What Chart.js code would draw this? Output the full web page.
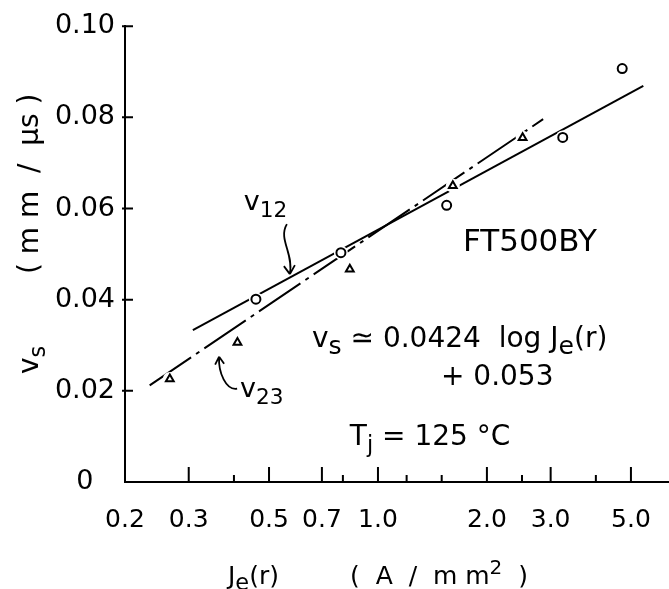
<!DOCTYPE html>
<html>
<head>
<meta charset="utf-8">
<script src="https://cdn.jsdelivr.net/npm/chart.js@4.4.1/dist/chart.umd.min.js"></script>
<style>
  html, body { margin: 0; padding: 0; background: #fff; }
  canvas { display: block; }
</style>
</head>
<body>
<canvas id="velocity" width="669" height="589"></canvas>
<script>
// x ticks (log scale), labelled and unlabelled
const xTickValues = [0.2, 0.3, 0.5, 0.7, 1, 2, 3, 5];
const xTickLabels = ['0.2', '0.3', '0.5', '0.7', '1.0', '2.0', '3.0', '5.0'];
const xMinorTicks = [0.4, 0.8, 1.2, 1.5, 2.5, 4];
const yTickValues = [0, 0.02, 0.04, 0.06, 0.08, 0.10];
const yTickLabels = ['0', '0.02', '0.04', '0.06', '0.08', '0.10'];

// measured points: Je(r) in A/mm2, vs in mm/us
const v12J  = [0.460, 0.790, 1.548, 3.24, 4.73];
const v12Vs = [0.0401, 0.0503, 0.0607, 0.0756, 0.0907];
const v23J  = [0.266, 0.409, 0.836, 1.61, 2.51];
const v23Vs = [0.0226, 0.0306, 0.0467, 0.0650, 0.0755];

// fitted straight lines (end points)
const v12FitJ  = [0.308, 5.41];
const v12FitVs = [0.0333, 0.0869];
const v23FitJ  = [0.234, 2.86];
const v23FitVs = [0.0212, 0.0796];

const FONT = '"DejaVu Sans", sans-serif';
Chart.defaults.font.family = FONT;
Chart.defaults.color = '#000';

const pts = (xs, ys) => xs.map((x, i) => ({ x: x, y: ys[i] }));

// text pieces: [text, 'sub' | 'sup' | undefined]
function drawRich(ctx, x, y, parts, size, subScale = 0.8) {
  for (const [t, kind] of parts) {
    const s = kind ? size * subScale : size;
    const dy = kind === 'sub' ? size * 0.25 : kind === 'sup' ? -size * 0.4 : 0;
    ctx.font = s + 'px ' + FONT;
    ctx.fillText(t, x, y + dy);
    x += ctx.measureText(t).width;
  }
  return x;
}

// labels placed in data coordinates
const notes = [
  { x: 0.426, y: 0.0596, size: 27, parts: [['v'], ['12', 'sub']] },
  { x: 0.416, y: 0.0186, size: 27, parts: [['v'], ['23', 'sub']] },
  { x: 1.717, y: 0.0507, size: 31, parts: [['FT500BY']] },
  { x: 0.657, y: 0.0297, size: 28, sub: 0.9, parts: [['v'], ['s', 'sub'], [' ≃ 0.0424  log J'], ['e', 'sub'], ['(r)']] },
  { x: 1.493, y: 0.0212, size: 28, parts: [['+ 0.053']] },
  { x: 0.836, y: 0.0081, size: 28, parts: [['T'], ['j', 'sub'], [' = 125 °C']] }
];

// curved pointers: tip in data coords, tail/control points as pixel offsets from the tip
const arrows = [
  { x: 0.571, y: 0.0456, tail: [-3, -50], c1: [-12, -35], c2: [4, -21], head: [[-6, -8], [5, -9]] },
  { x: 0.364, y: 0.0275, tail: [18, 32], c1: [7, 34], c2: [-1, 16], head: [[-4, 8], [5, 7]] }
];

const decorations = {
  id: 'decorations',
  afterDatasetsDraw(chart) {
    const ctx = chart.ctx;
    const X = chart.scales.x, Y = chart.scales.y;
    const area = chart.chartArea;
    ctx.save();
    ctx.strokeStyle = '#000';
    ctx.fillStyle = '#000';
    ctx.lineWidth = 2;
    ctx.lineCap = 'butt';

    // tick marks pointing into the plot
    ctx.beginPath();
    xTickValues.slice(1).forEach(v => {
      const px = X.getPixelForValue(v);
      ctx.moveTo(px, area.bottom);
      ctx.lineTo(px, area.bottom - 15);
    });
    xMinorTicks.forEach(v => {
      const px = X.getPixelForValue(v);
      ctx.moveTo(px, area.bottom);
      ctx.lineTo(px, area.bottom - 7);
    });
    yTickValues.slice(1).forEach(v => {
      const py = Y.getPixelForValue(v);
      ctx.moveTo(area.left - 3, py);
      ctx.lineTo(area.left + 8, py);
    });
    ctx.stroke();

    // annotations
    ctx.textAlign = 'left';
    ctx.textBaseline = 'alphabetic';
    notes.forEach(n => {
      drawRich(ctx, X.getPixelForValue(n.x), Y.getPixelForValue(n.y), n.parts, n.size, n.sub);
    });

    ctx.lineWidth = 1.8;
    arrows.forEach(a => {
      const tx = X.getPixelForValue(a.x), ty = Y.getPixelForValue(a.y);
      ctx.beginPath();
      ctx.moveTo(tx + a.tail[0], ty + a.tail[1]);
      ctx.bezierCurveTo(tx + a.c1[0], ty + a.c1[1], tx + a.c2[0], ty + a.c2[1], tx, ty);
      a.head.forEach(h => {
        ctx.moveTo(tx, ty);
        ctx.lineTo(tx + h[0], ty + h[1]);
      });
      ctx.stroke();
    });

    // axis titles
    const ySize = 28;
    ctx.save();
    ctx.translate(38, 374);
    ctx.rotate(-Math.PI / 2);
    drawRich(ctx, 0, 0, [['v'], ['s', 'sub']], ySize);
    drawRich(ctx, 100, 0, [['( m m  /  μs )']], ySize);
    ctx.restore();

    const xSize = 25;
    drawRich(ctx, 228, 584, [['J'], ['e', 'sub'], ['(r)']], xSize, 0.9);
    drawRich(ctx, 350, 584, [['(  A  /  m m'], ['2', 'sup'], ['  )']], xSize);

    ctx.restore();
  }
};

new Chart(document.getElementById('velocity'), {
  type: 'scatter',
  data: {
    datasets: [
      {
        label: 'v12',
        data: pts(v12J, v12Vs),
        pointStyle: 'circle',
        pointRadius: 4.5,
        borderColor: '#000',
        backgroundColor: '#fff',
        borderWidth: 2,
        order: 0
      },
      {
        label: 'v23',
        data: pts(v23J, v23Vs),
        pointStyle: 'triangle',
        pointRadius: 4.5,
        borderColor: '#000',
        backgroundColor: '#fff',
        borderWidth: 2,
        order: 0
      },
      {
        // white gap where the fitted lines pass the symbols
        label: 'gap',
        data: pts(v12J.concat(v23J), v12Vs.concat(v23Vs)),
        pointRadius: 7,
        borderWidth: 0,
        backgroundColor: '#fff',
        order: 1
      },
      {
        label: 'v12 fit',
        data: pts(v12FitJ, v12FitVs),
        showLine: true,
        pointRadius: 0,
        borderColor: '#000',
        borderWidth: 2,
        order: 2
      },
      {
        label: 'v23 fit',
        data: pts(v23FitJ, v23FitVs),
        showLine: true,
        pointRadius: 0,
        borderColor: '#000',
        borderWidth: 2,
        borderDash: [50, 6, 4, 6],
        order: 2
      }
    ]
  },
  options: {
    responsive: false,
    animation: false,
    devicePixelRatio: 1,
    layout: { autoPadding: false, padding: { top: 24, right: 0, left: 0, bottom: 0 } },
    plugins: { legend: { display: false }, tooltip: { enabled: false } },
    scales: {
      x: {
        type: 'logarithmic',
        position: 'bottom',
        min: 0.2,
        max: 6.37,
        grid: { display: false, drawTicks: false },
        border: { color: '#000', width: 2 },
        afterBuildTicks: s => { s.ticks = xTickValues.map(v => ({ value: v })); },
        afterFit: s => { s.height = 107; s.paddingLeft = 0; s.paddingRight = 0; },
        ticks: {
          autoSkip: false,
          maxRotation: 0,
          padding: 23,
          color: '#000',
          font: { size: 25 },
          callback: (v, i) => xTickLabels[i]
        }
      },
      y: {
        min: 0,
        max: 0.1,
        grid: { display: false, drawTicks: false },
        border: { color: '#000', width: 2 },
        afterBuildTicks: s => { s.ticks = yTickValues.map(v => ({ value: v })); },
        afterFit: s => { s.width = 125; },
        ticks: {
          padding: 10,
          crossAlign: 'center',
          color: '#000',
          font: { size: 27 },
          callback: (v, i) => yTickLabels[i]
        }
      }
    }
  },
  plugins: [decorations]
});
</script>
</body>
</html>
